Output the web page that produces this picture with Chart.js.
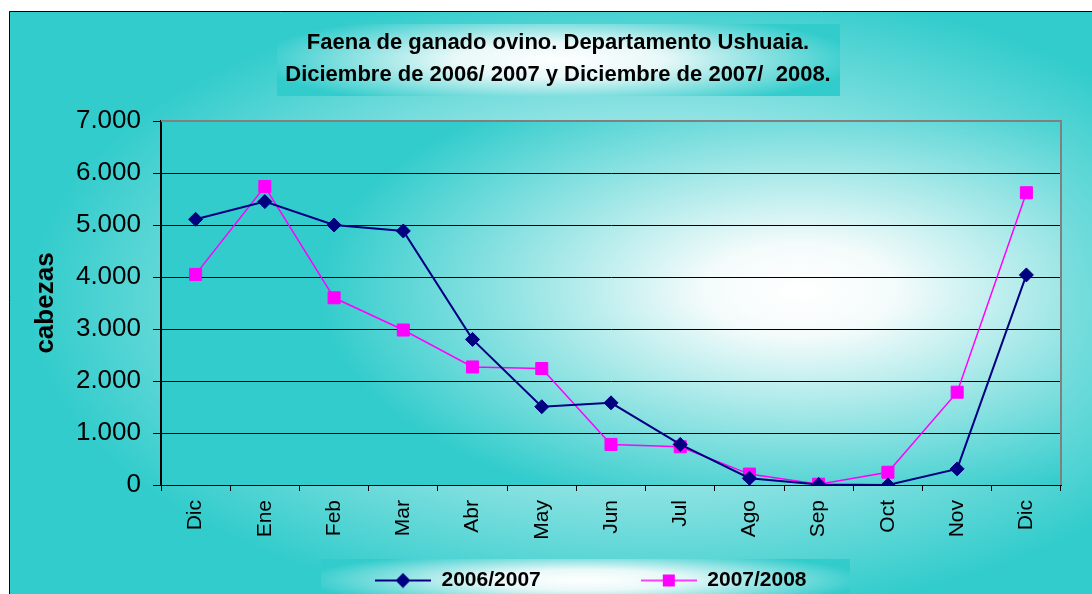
<!DOCTYPE html>
<html><head><meta charset="utf-8">
<script src="https://cdn.jsdelivr.net/npm/chart.js@4/dist/chart.umd.min.js"></script>
<style>html,body{margin:0;padding:0;background:#fff;}#wrap{width:1092px;height:594px;position:relative;}</style>
</head><body><div id="wrap"><canvas id="c"></canvas></div>
<script>
const categories = ['Dic','Ene','Feb','Mar','Abr','May','Jun','Jul','Ago','Sep','Oct','Nov','Dic'];
const series2006 = [5110,5450,5000,4885,2800,1505,1580,780,130,10,0,310,4040];
const series2007 = [4050,5740,3600,2980,2270,2240,780,735,210,15,245,1785,5620];
const yTickLabels = ['0','1.000','2.000','3.000','4.000','5.000','6.000','7.000'];
const titleLines = ['Faena de ganado ovino. Departamento Ushuaia.','Diciembre de 2006/ 2007 y Diciembre de 2007/  2008.'];
const seriesNames = ['2006/2007','2007/2008'];
const yTitle = 'cabezas';

const FAM = "Arial, 'Liberation Sans', sans-serif";
const TEAL = '#33cccc';
const BLUE = '#000080';
const PINK = '#ff00ff';

function legendIcon(color, style, lw){
  const c = document.createElement('canvas'); c.width = 56; c.height = 16;
  const g = c.getContext('2d');
  g.strokeStyle = color; g.lineWidth = lw;
  g.beginPath(); g.moveTo(0,8); g.lineTo(56,8); g.stroke();
  g.fillStyle = color;
  if (style === 'diamond'){ g.beginPath(); g.moveTo(28,0.5); g.lineTo(35.5,8); g.lineTo(28,15.5); g.lineTo(20.5,8); g.closePath(); g.fill(); }
  else { g.fillRect(22,2,12,12); }
  return c;
}
const icons = [legendIcon(BLUE,'diamond',2), legendIcon(PINK,'square',1.5)];

function ellipseFill(ctx, x, y, w, h, cx, cy, rx, ry, stops){
  ctx.save();
  ctx.beginPath(); ctx.rect(x, y, w, h); ctx.clip();
  ctx.translate(cx, cy); ctx.scale(1, ry/rx);
  const g = ctx.createRadialGradient(0,0,0,0,0,rx);
  stops.forEach(s => g.addColorStop(s[0], s[1]));
  ctx.fillStyle = g;
  ctx.fillRect(x - cx, (y - cy)*rx/ry, w, h*rx/ry);
  ctx.restore();
}

const bgPlugin = {
  id: 'bgPlugin',
  beforeDraw(chart){
    const ctx = chart.ctx, W = chart.width, H = chart.height;
    const a = chart.chartArea;
    ellipseFill(ctx, 9, 11, W-9, H-11, 650, 300, 620, 320, [[0,'#ffffff'],[0.12,'#f2fbfb'],[1,TEAL]]);
    ctx.save(); ctx.strokeStyle = '#000'; ctx.lineWidth = 1;
    ctx.beginPath(); ctx.moveTo(9.5, H); ctx.lineTo(9.5, 11.5); ctx.lineTo(W, 11.5); ctx.stroke(); ctx.restore();
    ellipseFill(ctx, a.left, a.top, a.right-a.left, a.bottom-a.top, 800, 290, 480, 230, [[0,'#ffffff'],[0.2,'#f4fbfb'],[1,TEAL]]);
    ellipseFill(ctx, 277, 24, 563, 72, 558, 60, 300, 50, [[0,'#ffffff'],[0.35,'#e8f8f8'],[1,TEAL]]);
    ellipseFill(ctx, 321, 559, 529, 40, 585, 580, 280, 30, [[0,'#ffffff'],[0.35,'#e8f8f8'],[1,TEAL]]);
    const tb = chart.titleBlock; tb.left = 238; tb.right = 878;
    const lg = chart.legend; lg.left = 275; lg.right = 3000; lg.top = 470; lg.bottom = 594;
  },
  beforeDatasetsDraw(chart){
    const ctx = chart.ctx, a = chart.chartArea;
    ctx.save(); ctx.strokeStyle = '#808080'; ctx.lineWidth = 2;
    ctx.beginPath(); ctx.moveTo(a.left, a.top); ctx.lineTo(a.right, a.top); ctx.lineTo(a.right, a.bottom); ctx.stroke();
    ctx.restore();
  }
};

new Chart(document.getElementById('c'), {
  type: 'line',
  data: {
    labels: categories,
    datasets: [
      {label: seriesNames[0], data: series2006, borderColor: BLUE, backgroundColor: BLUE, borderWidth: 2,
       pointStyle: 'rectRot', pointRadius: 7, pointBorderWidth: 1, pointBorderColor: BLUE, pointBackgroundColor: BLUE, tension: 0},
      {label: seriesNames[1], data: series2007, borderColor: PINK, backgroundColor: PINK, borderWidth: 1.5,
       pointStyle: 'rect', pointRadius: 8.5, pointBorderWidth: 1, pointBorderColor: PINK, pointBackgroundColor: PINK, tension: 0}
    ]
  },
  plugins: [bgPlugin],
  options: {
    responsive: true, maintainAspectRatio: false, animation: false,
    layout: {padding: {left: 0, right: 31, top: 0, bottom: 0}},
    plugins: {
      title: {display: true, text: titleLines, color: '#000',
        font: {family: FAM, size: 22, weight: 'bold', lineHeight: '32px'}, padding: {top: 27, bottom: 30}},
      legend: {position: 'bottom', align: 'start', maxHeight: 40,
        labels: {usePointStyle: true, pointStyleWidth: 56, padding: 100, color: '#000',
          font: {family: FAM, size: 21, weight: 'bold'},
          generateLabels(chart){
            return Chart.defaults.plugins.legend.labels.generateLabels(chart).map((l, i) => Object.assign(l, {pointStyle: icons[i]}));
          }}},
      tooltip: {enabled: false}
    },
    scales: {
      x: {
        offset: true,
        grid: {display: true, drawOnChartArea: false, offset: true, tickLength: 6, color: '#000'},
        border: {color: '#000', width: 1},
        ticks: {minRotation: 90, maxRotation: 90, padding: 9, color: '#000', font: {family: FAM, size: 21}},
        afterFit(s){ s.height = 69; }
      },
      y: {
        min: 0, max: 7000,
        ticks: {stepSize: 1000, padding: 12, color: '#000', font: {family: FAM, size: 26},
          callback: (v, i) => yTickLabels[i]},
        grid: {color: '#000', tickLength: 8},
        border: {color: '#000', width: 2},
        title: {display: true, text: yTitle, color: '#000', font: {family: FAM, size: 26, weight: 'bold'}, padding: {top: 30, bottom: 0}},
        afterFit(s){ s.width = 161; }
      }
    }
  }
});
</script>
</body></html>
